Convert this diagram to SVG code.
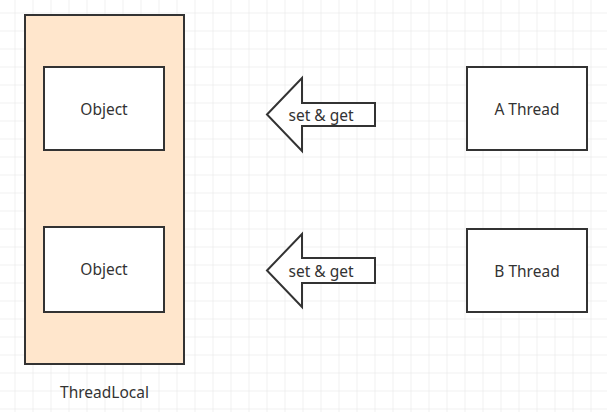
<svg xmlns="http://www.w3.org/2000/svg" width="607" height="412" viewBox="0 0 607 412">
  <defs>
    <pattern id="grid" patternUnits="userSpaceOnUse" x="-2.5" y="-4.5" width="18" height="18">
      <path d="M18 0V18M0 18H18" fill="none" stroke="#e3e3e3" stroke-width="1"/>
    </pattern>
    <style>
      .box { fill: #ffffff; stroke: #333333; stroke-width: 2; }
      .outer { fill: #ffe6cc; stroke: #333333; stroke-width: 2; }
      .arrow { fill: #ffffff; stroke: #333333; stroke-width: 2; stroke-linejoin: miter; }
      .lbl { font-family: "Noto Sans", "Open Sans", "DejaVu Sans", sans-serif; font-size: 15.5px; fill: #333333; text-anchor: middle; }
    </style>
  </defs>
  <rect width="607" height="412" fill="#ffffff"/>
  <rect width="607" height="412" fill="url(#grid)"/>

  <g id="threadlocal">
    <rect class="outer" x="25" y="15" width="159" height="349"/>
    <text class="lbl" x="104.5" y="398">ThreadLocal</text>
  </g>
  <g id="object1">
    <rect class="box" x="44" y="67" width="120" height="83"/>
    <text class="lbl" x="104" y="114.5">Object</text>
  </g>
  <g id="object2">
    <rect class="box" x="44" y="227" width="120" height="85"/>
    <text class="lbl" x="104" y="275">Object</text>
  </g>
  <g id="athread">
    <rect class="box" x="467" y="67" width="120" height="83"/>
    <text class="lbl" x="527" y="114.5">A Thread</text>
  </g>
  <g id="bthread">
    <rect class="box" x="467" y="229" width="120" height="83"/>
    <text class="lbl" x="527" y="276.5">B Thread</text>
  </g>

  <g id="connectors">
    <g id="arrow1">
      <path class="arrow" d="M267 114.5 L302 78 L302 103 L375 103 L375 126 L302 126 L302 151 Z"/>
      <text class="lbl" x="321" y="120.5">set &amp; get</text>
    </g>
    <g id="arrow2">
      <path class="arrow" d="M267 270.5 L302 234 L302 258 L375 258 L375 283 L302 283 L302 307 Z"/>
      <text class="lbl" x="321" y="276.5">set &amp; get</text>
    </g>
  </g>
</svg>
